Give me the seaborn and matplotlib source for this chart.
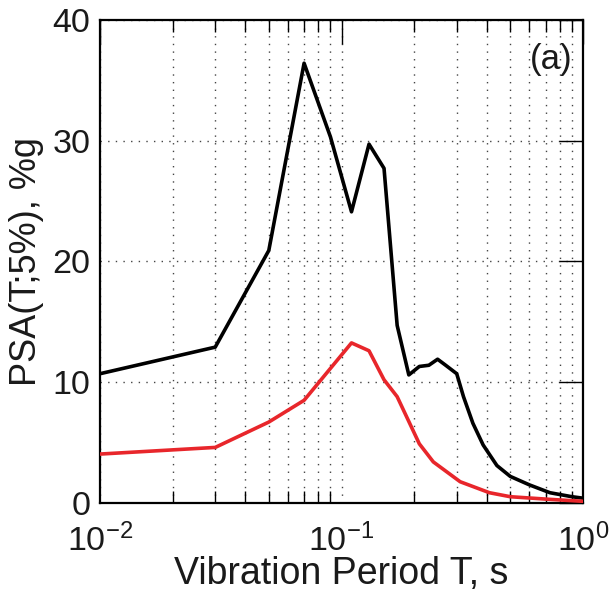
import matplotlib
matplotlib.use("Agg")
import matplotlib.pyplot as plt
import seaborn as sns
import pandas as pd
import numpy as np
from matplotlib.ticker import LogLocator, NullFormatter

# Data
period_black = [0.01, 0.03, 0.05, 0.07, 0.09, 0.11, 0.13, 0.15, 0.17, 0.19,
                0.21, 0.23, 0.25, 0.27, 0.30, 0.32, 0.35, 0.386, 0.44, 0.5,
                0.6, 0.73, 0.9, 1.0]
psa_black = [10.7, 12.9, 20.9, 36.4, 30.3, 24.1, 29.7, 27.7, 14.7, 10.6,
             11.3, 11.4, 11.9, 11.4, 10.7, 8.8, 6.6, 4.8, 3.1, 2.2,
             1.5, 0.85, 0.52, 0.4]

period_red = [0.01, 0.03, 0.05, 0.07, 0.11, 0.13, 0.15, 0.17, 0.21, 0.24,
              0.31, 0.41, 0.5, 0.73, 1.0]
psa_red = [4.05, 4.6, 6.7, 8.5, 13.25, 12.6, 10.2, 8.8, 4.9, 3.4,
           1.76, 0.85, 0.52, 0.3, 0.14]

xlabel = "Vibration Period T, s"
ylabel = "PSA(T;5%), %g"
panel_label = "(a)"
yticks = [0, 10, 20, 30, 40]

sns.set_theme(style="white")
plt.rcParams['font.family'] = ['Liberation Sans', 'DejaVu Sans']
plt.rcParams['mathtext.fontset'] = 'custom'
plt.rcParams['mathtext.rm'] = 'Liberation Sans'
plt.rcParams['mathtext.it'] = 'Liberation Sans:italic'
plt.rcParams['mathtext.bf'] = 'Liberation Sans:bold'

fig = plt.figure(figsize=(6.09, 5.92), dpi=100)
ax = fig.add_axes([100/609, 89/592, 483/609, 483.3/592])

df_b = pd.DataFrame({"T": period_black, "PSA": psa_black})
df_r = pd.DataFrame({"T": period_red, "PSA": psa_red})
sns.lineplot(data=df_b, x="T", y="PSA", ax=ax, color="black", lw=2.6, zorder=3)
sns.lineplot(data=df_r, x="T", y="PSA", ax=ax, color="#e8262b", lw=2.6, zorder=3)

ax.set_xscale("log")
ax.set_xlim(0.01, 1.0)
ax.set_ylim(0, 40)
ax.set_yticks(yticks)
ax.xaxis.set_major_locator(LogLocator(base=10, numticks=10))
ax.xaxis.set_minor_locator(LogLocator(base=10, subs=np.arange(2, 10), numticks=20))
ax.xaxis.set_minor_formatter(NullFormatter())

gstyle = dict(color="#444444", linestyle=(0, (1, 4.5)), linewidth=1.0)
ax.grid(True, which="major", axis="both", **gstyle)
ax.grid(True, which="minor", axis="x", **gstyle)

ax.tick_params(which="major", direction="in", length=17, width=1.0,
               top=True, right=True, labelsize=24.5, colors="black", pad=7)
ax.tick_params(which="minor", direction="in", length=8.5, width=1.0,
               top=True, right=True, bottom=True, colors="black")
ax.tick_params(axis="x", which="major", pad=15)
for lbl in ax.get_xticklabels() + ax.get_yticklabels():
    lbl.set_color("#1a1a1a")

for s in ax.spines.values():
    s.set_linewidth(1.6)
    s.set_color("black")
    s.set_visible(True)

ax.set_xlabel(xlabel, fontsize=27, labelpad=-2, color="#1a1a1a")
ax.set_ylabel(ylabel, fontsize=26, labelpad=6, color="#1a1a1a")
ax.text(0.979, 0.918, panel_label, transform=ax.transAxes, ha="right", va="center",
        fontsize=25, color="#1a1a1a")

fig.savefig("out.png", dpi=100)
